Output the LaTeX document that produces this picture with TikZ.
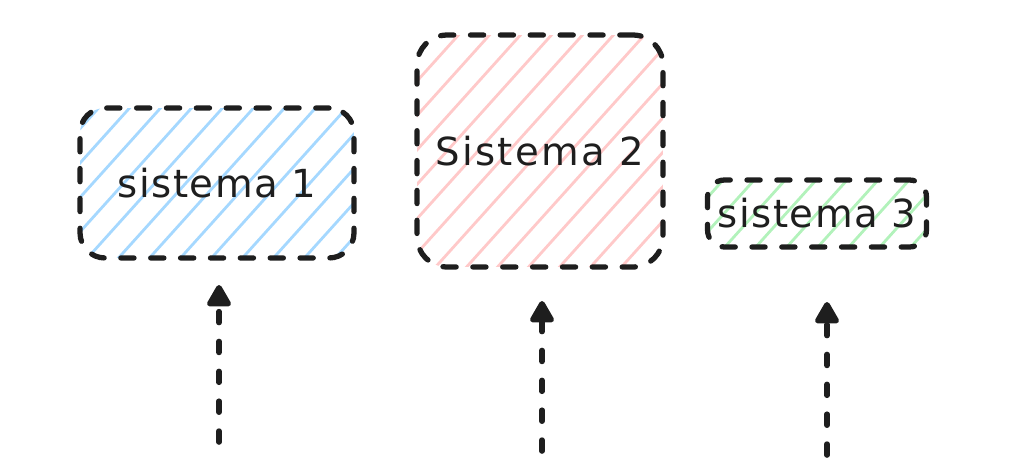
\documentclass[tikz,border=0pt]{standalone}
\usepackage{fontspec}
\setmainfont{DejaVu Sans}
\usetikzlibrary{arrows.meta}
\definecolor{ink}{HTML}{1E1E1E}
\definecolor{hblue}{HTML}{A5D8FF}
\definecolor{hred}{HTML}{FFC9C9}
\definecolor{hgreen}{HTML}{B2F2BB}
\begin{document}
\begin{tikzpicture}[x=0.02cm,y=-0.02cm,
  sysbox/.style={draw=ink, line width=3pt, dash pattern=on 7.5pt off 9.5pt,
    line cap=round, inner sep=0pt, font=\fontsize{22}{26}\selectfont, text=ink},
  hatched/.style={path picture={
    \foreach \k in {-10,...,10}{
      \draw[#1, solid, line width=1.6pt, line cap=round, sharp corners]
        ([xshift=\k*0.62cm]path picture bounding box.center) ++(228:4cm) -- ++(48:8cm);
    }}},
  flow/.style={draw=ink, line width=3.2pt, line cap=round,
    dash pattern=on 6.2pt off 10.8pt,
    -{Triangle[length=14pt,width=15pt,round]}}
]
\useasboundingbox (0,0) rectangle (1024,457);

\node[sysbox, hatched=hblue, rounded corners=0.5cm,
      minimum width=5.48cm, minimum height=3cm] (s1) at (217,183)
      {\addfontfeature{LetterSpace=4}sistema 1};
\node[sysbox, hatched=hred, rounded corners=0.6cm,
      minimum width=4.92cm, minimum height=4.64cm] (s2) at (540,151)
      {\addfontfeature{LetterSpace=6}Sistema 2};
\node[sysbox, hatched=hgreen, rounded corners=0.34cm,
      minimum width=4.38cm, minimum height=1.34cm] (s3) at (817,213.5)
      {\addfontfeature{LetterSpace=4}sistema 3};

\coordinate (b1) at (219,442);
\coordinate (t1) at (219,285);
\coordinate (b2) at (542,451);
\coordinate (t2) at (542,301);
\coordinate (b3) at (827,455);
\coordinate (t3) at (827,302);

\draw[flow] (b1) -- (t1);
\draw[flow] (b2) -- (t2);
\draw[flow] (b3) -- (t3);
\end{tikzpicture}
\end{document}
